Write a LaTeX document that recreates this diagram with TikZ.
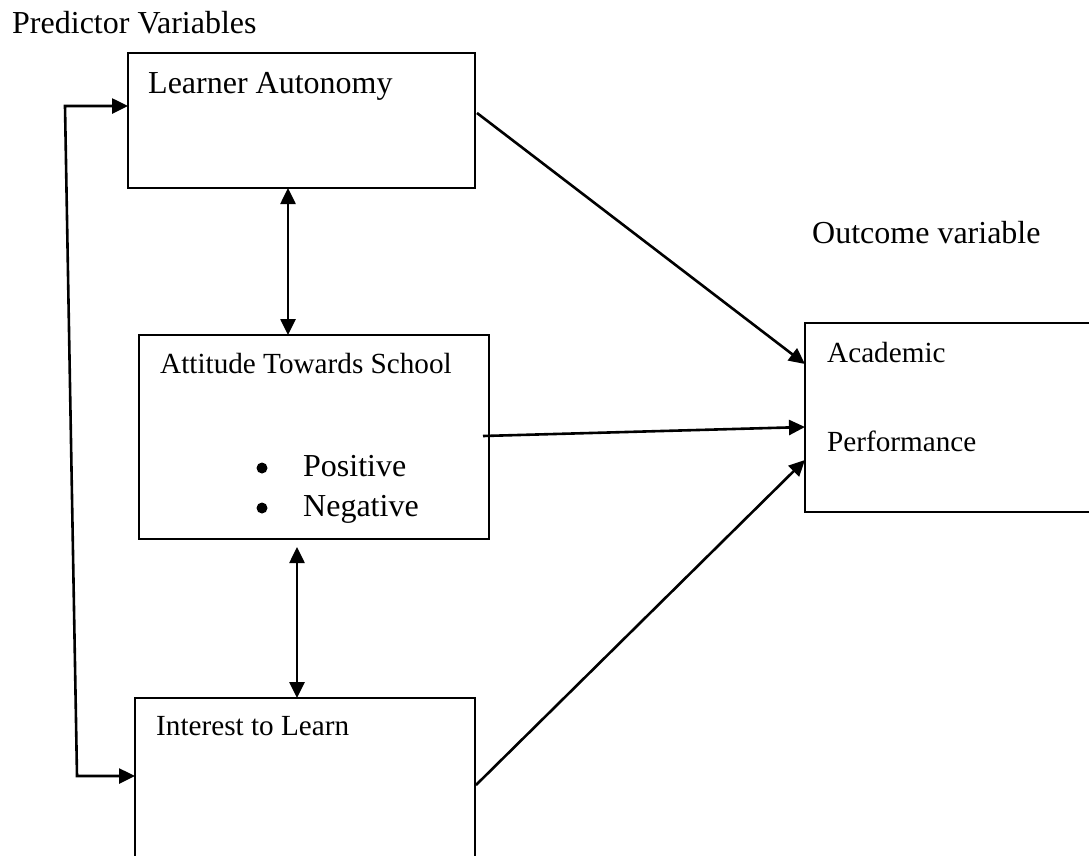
\documentclass[tikz,border=0pt]{standalone}
\usepackage{fontspec}
\setmainfont{Liberation Serif}
\usetikzlibrary{arrows.meta}
\begin{document}
\begin{tikzpicture}[x=1pt,y=-1pt,
  box/.style={draw, line width=2.2pt, rectangle, inner sep=0pt, outer sep=0pt, anchor=north west},
  big/.style={font=\fontsize{32}{38}\selectfont, anchor=base west, inner sep=0pt},
  mid/.style={font=\fontsize{29.2}{35}\selectfont, anchor=base west, inner sep=0pt},
  dot/.style={circle, fill=black, inner sep=0pt, minimum size=11pt},
  tip/.style={Triangle[length=16pt,width=15pt]},
  conn/.style={line width=2.6pt, -{Triangle[length=16pt,width=15pt]}},
  dconn/.style={line width=2.6pt, {Triangle[length=16pt,width=15pt]}-{Triangle[length=16pt,width=15pt]}}]
\useasboundingbox (0,0) rectangle (1089,855);
\clip (0,0) rectangle (1089,855);
\fill[white] (0,0) rectangle (1089,855);

% boxes
\node[box, minimum width=347pt, minimum height=135pt] (LA) at (128,53) {};
\node[box, minimum width=350pt, minimum height=204pt] (AT) at (139,335) {};
\node[box, minimum width=340pt, minimum height=220pt] (IL) at (135,698) {};
\node[box, minimum width=300pt, minimum height=189pt] (AP) at (805,323) {};

% texts
\node[big] (pv) at (12,33) {Predictor Variables};
\node[big] (lat) at (148,93) {Learner Autonomy};
\node[big] (ov) at (812,243) {Outcome variable};
\node[mid] (att) at (160,373) {Attitude Towards School};
\node[dot] (b1) at (262,468) {};
\node[big] (pos) at (303,476) {Positive};
\node[dot] (b2) at (262,508) {};
\node[big] (neg) at (303,516) {Negative};
\node[mid] (ac) at (827,362) {Academic};
\node[mid] (pf) at (827,451) {Performance};
\node[mid] (ilt) at (156,735) {Interest to Learn};

% connectors
\coordinate (c1) at (65,106);
\coordinate (c2) at (77,776);
\draw[dconn] ([yshift=-53pt]LA.north west) -- (c1) -- (c2) -- ([yshift=-78pt]IL.north west);
\draw[dconn] ([xshift=160pt]LA.south west) -- ([xshift=149pt]AT.north west);
\draw[dconn] ([xshift=158pt,yshift=-8pt]AT.south west) -- ([xshift=162pt]IL.north west);
\draw[conn] ([xshift=2pt,yshift=-60pt]LA.north east) -- ([yshift=-41pt]AP.north west);
\draw[conn] ([xshift=-6pt,yshift=-101pt]AT.north east) -- ([yshift=-104pt]AP.north west);
\draw[conn] ([xshift=1pt,yshift=-87pt]IL.north east) -- ([yshift=-137pt]AP.north west);
\end{tikzpicture}
\end{document}
